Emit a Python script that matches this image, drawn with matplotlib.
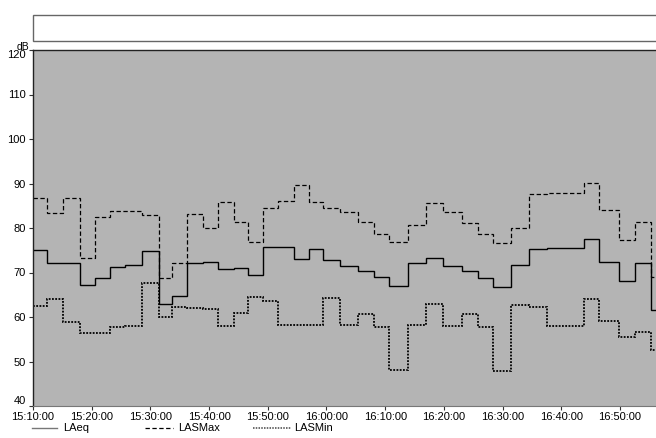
import pandas as pd
import matplotlib
matplotlib.use("Agg")
import matplotlib.pyplot as plt
import matplotlib.dates as mdates
from matplotlib.lines import Line2D
from matplotlib.patches import Rectangle

plt.rcParams.update({
    "font.family": ["Liberation Sans", "DejaVu Sans"],
    "font.size": 8,
})

# Logging periods: start of each period, the last entry closes the final one
EDGES = [
    "15:10:00", "15:12:26", "15:15:02", "15:18:04", "15:20:31", "15:23:04",
    "15:25:45", "15:28:34", "15:31:31", "15:33:38", "15:36:17", "15:39:01",
    "15:41:34", "15:44:14", "15:46:38", "15:49:14", "15:51:47", "15:54:28",
    "15:57:04", "15:59:27", "16:02:13", "16:05:27", "16:08:08", "16:10:42",
    "16:13:48", "16:16:57", "16:19:54", "16:23:05", "16:25:46", "16:28:19",
    "16:31:26", "16:34:33", "16:37:29", "16:43:49", "16:46:28", "16:49:53",
    "16:52:38", "16:55:17", "16:58:30",
]

LAEQ = [
    75.0, 72.1, 72.1, 67.3, 68.8, 71.3, 71.7, 74.9, 62.9, 64.7,
    72.2, 72.4, 70.8, 70.9, 69.4, 75.7, 75.7, 73.0, 75.2, 72.8,
    71.5, 70.4, 68.9, 67.0, 72.2, 73.2, 71.5, 70.3, 68.7, 66.8,
    71.7, 75.2, 75.4, 77.5, 72.4, 68.1, 72.2, 61.6,
]
LASMAX = [
    86.7, 83.3, 86.7, 73.2, 82.5, 83.9, 83.9, 82.9, 68.7, 72.2,
    83.2, 79.9, 85.9, 81.4, 76.9, 84.5, 86.1, 89.7, 85.9, 84.6,
    83.6, 81.4, 78.6, 76.9, 80.7, 85.7, 83.7, 81.2, 78.7, 76.7,
    79.9, 87.7, 87.9, 90.2, 84.0, 77.3, 81.4, 69.0,
]
LASMIN = [
    62.5, 64.0, 58.9, 56.3, 56.3, 57.7, 58.0, 67.7, 59.9, 62.2,
    62.0, 61.7, 58.0, 60.8, 64.6, 63.5, 58.2, 58.2, 58.2, 64.3,
    58.3, 60.7, 57.7, 48.1, 58.2, 62.9, 58.0, 60.6, 57.7, 47.9,
    62.7, 62.2, 58.0, 64.0, 59.0, 55.6, 56.7, 52.6,
]

Y_TICKS = [40, 50, 60, 70, 80, 90, 100, 110, 120]
X_FROM, X_TO = "15:10:00", "16:56:08"

DAY = "2000-01-01 "


def to_num(times):
    return mdates.date2num(pd.to_datetime([DAY + t for t in times]).to_numpy())


edges = to_num(EDGES)

W, H = 656, 438
fig = plt.figure(figsize=(W / 100, H / 100), dpi=100)
fig.patch.set_facecolor("white")

# plot area runs off the right edge of the page
ax = fig.add_axes([33 / W, 1 - 406 / H, 1 - 33 / W, (406 - 50) / H])
ax.set_facecolor("#b4b4b4")

ax.stairs(LAEQ, edges, baseline=None, color="black", lw=1.0)
ax.stairs(LASMAX, edges, baseline=None, color="black", lw=0.9,
          linestyle=(0, (3.5, 2)))
ax.stairs(LASMIN, edges, baseline=None, color="black", lw=1.3,
          linestyle=(0, (1, 0.8)))

ax.xaxis_date()
x0, x1 = to_num([X_FROM, X_TO])
ax.set_xlim(x0, x1)
ax.set_ylim(40, 120)
ax.xaxis.set_major_locator(mdates.MinuteLocator(byminute=range(0, 60, 10)))
ax.xaxis.set_major_formatter(mdates.DateFormatter("%H:%M:%S"))
ax.set_yticks(Y_TICKS)

ax.tick_params(axis="both", direction="out", length=3, width=0.8,
               colors="#333333", labelcolor="black")
ax.tick_params(axis="x", pad=1.5)
ax.tick_params(axis="y", pad=2)

# end labels are pulled inside the axis range
yt = ax.yaxis.get_major_ticks()
yt[0].label1.set_va("bottom")
yt[-1].label1.set_va("top")

for side in ("left", "top"):
    ax.spines[side].set_color("#222222")
    ax.spines[side].set_linewidth(1.0)
ax.spines["bottom"].set_color("#777777")
ax.spines["bottom"].set_linewidth(0.8)
ax.spines["right"].set_visible(False)

fig.text(17 / W, 1 - 46.5 / H, "dB", fontsize=7.5, va="center", ha="left")

# empty header box above the chart
fig.add_artist(Rectangle((33 / W, 1 - 41 / H), 1.0, 26 / H,
                         transform=fig.transFigure, facecolor="white",
                         edgecolor="#666666", lw=1.0))

# legend row
ly = 1 - 428 / H
keys = [
    (32, 57, "-", 1.0, "#777777", 63, "LAeq"),
    (145, 173, (0, (3.5, 2)), 0.9, "black", 178, "LASMax"),
    (253, 291, (0, (1, 0.8)), 1.1, "#444444", 294, "LASMin"),
]
for xa, xb, ls, lw, col, xt, name in keys:
    fig.add_artist(Line2D([xa / W, xb / W], [ly, ly], transform=fig.transFigure,
                          linestyle=ls, lw=lw, color=col))
    fig.text(xt / W, ly, name, fontsize=8, va="center", ha="left")

fig.savefig("out.png", dpi=100, facecolor="white")
